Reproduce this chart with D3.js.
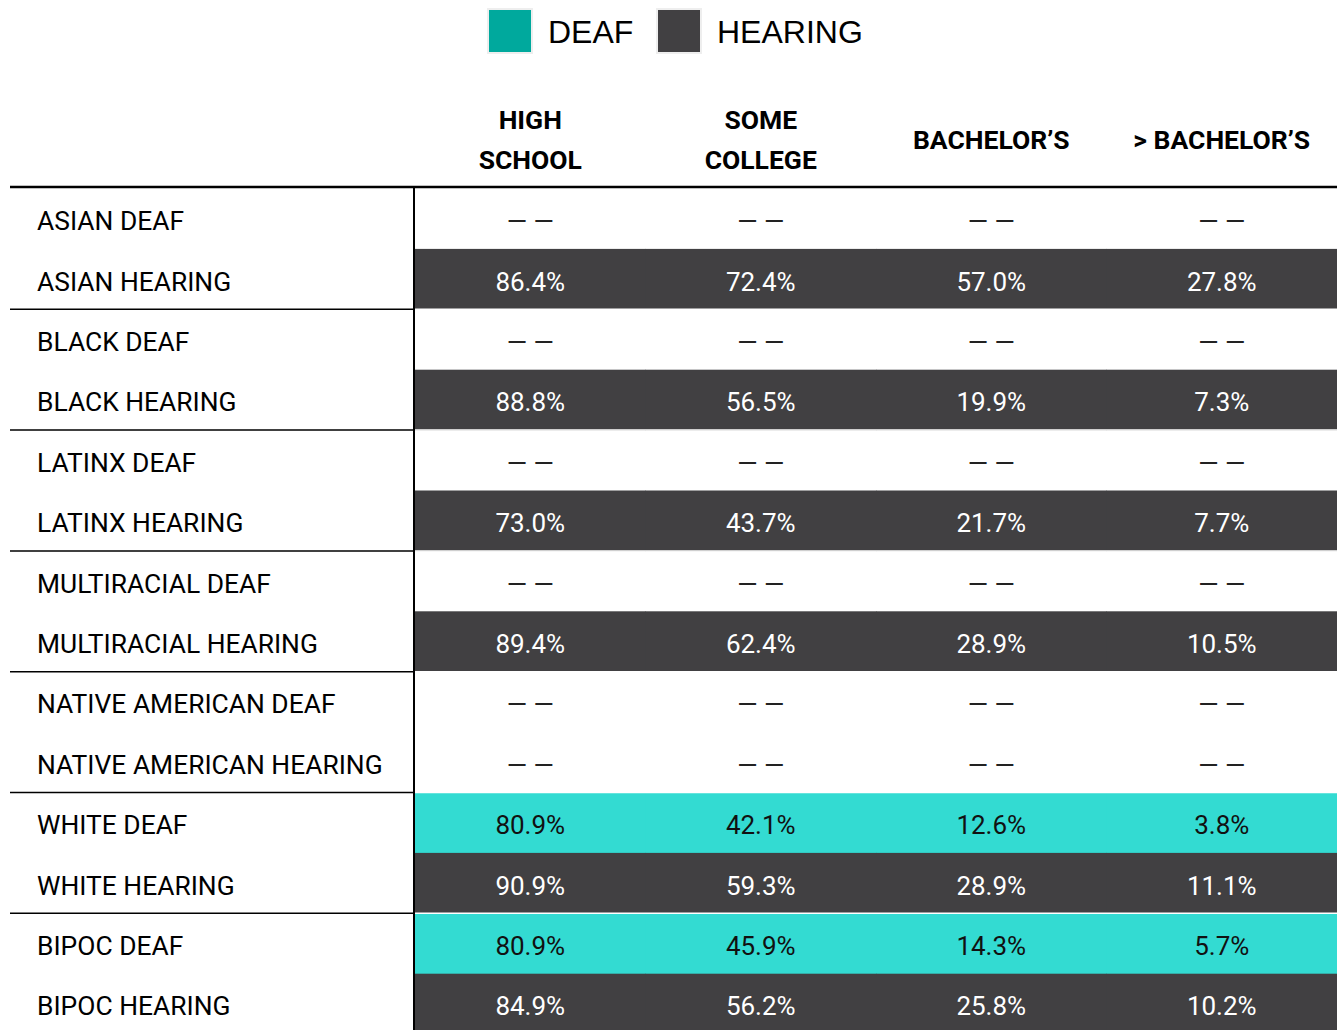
<!DOCTYPE html>
<html>
<head>
<meta charset="utf-8">
<script src="https://cdn.jsdelivr.net/npm/d3@7"></script>
<style>
  html, body { margin: 0; padding: 0; background: #fff; }
  svg { display: block; }
</style>
</head>
<body>
<div id="chart"></div>
<script>
// columns (education level), header lines per column
const LEVELS = ["HIGH SCHOOL", "SOME COLLEGE", "BACHELOR'S", "> BACHELOR'S"];
const LEVEL_LINES = [["HIGH", "SCHOOL"], ["SOME", "COLLEGE"], ["BACHELOR\u2019S"], ["> BACHELOR\u2019S"]];

// row groups
const GROUPS = ["ASIAN", "BLACK", "LATINX", "MULTIRACIAL", "NATIVE AMERICAN", "WHITE", "BIPOC"];
const STATUS = ["DEAF", "HEARING"];

// values per group, null = not available
const DEAF_VALUES = [
    [null, null, null, null],
    [null, null, null, null],
    [null, null, null, null],
    [null, null, null, null],
    [null, null, null, null],
    [80.9, 42.1, 12.6, 3.8],
    [80.9, 45.9, 14.3, 5.7]
];
const HEARING_VALUES = [
    [86.4, 72.4, 57.0, 27.8],
    [88.8, 56.5, 19.9, 7.3],
    [73.0, 43.7, 21.7, 7.7],
    [89.4, 62.4, 28.9, 10.5],
    [null, null, null, null],
    [90.9, 59.3, 28.9, 11.1],
    [84.9, 56.2, 25.8, 10.2]
];

const W = 1337, H = 1030;
const COLOR_LEGEND = { DEAF: "#00a99d", HEARING: "#414042" };
const COLOR_CELL = { DEAF: "#33dbd2", HEARING: "#414042" };
const TEXT_CELL = { DEAF: "#111", HEARING: "#fff" };

// flatten rows
const rows = [];
GROUPS.forEach((g, gi) => {
    STATUS.forEach(s => {
        const vals = s === "DEAF" ? DEAF_VALUES[gi] : HEARING_VALUES[gi];
        rows.push({ id: g + " " + s, group: g, status: s, values: vals });
    });
});

const svg = d3.select("#chart").append("svg")
    .attr("width", W).attr("height", H)
    .style("font-family", "Roboto, 'Noto Sans', sans-serif");

const tableTop = 188.5, labelLeft = 10, divX = 415;

const x = d3.scaleBand().domain(LEVELS).range([divX, W]);
const y = d3.scaleBand().domain(rows.map(r => r.id)).range([tableTop, tableTop + 60.4 * rows.length]);

// Legend
const legend = svg.append("g").attr("class", "legend");
const legendItems = [{ key: "DEAF", x: 488, tx: 548 }, { key: "HEARING", x: 657, tx: 717 }];
legendItems.forEach(it => {
    legend.append("rect")
        .attr("x", it.x).attr("y", 9).attr("width", 44).attr("height", 44)
        .attr("fill", COLOR_LEGEND[it.key])
        .attr("stroke", "#eeeeee").attr("stroke-width", 2);
    legend.append("text")
        .attr("x", it.tx).attr("y", 43)
        .attr("font-family", "'Liberation Sans', Arial, sans-serif")
        .attr("font-size", "32px")
        .attr("fill", "#000")
        .text(it.key);
});

// Header
LEVELS.forEach((lv, i) => {
    const lines = LEVEL_LINES[i];
    const cx = x(lv) + x.bandwidth() / 2;
    const t = svg.append("text")
        .attr("text-anchor", "middle")
        .attr("font-weight", "bold")
        .attr("font-size", "26.5px")
        .attr("fill", "#000");
    if (lines.length === 2) {
        t.append("tspan").attr("x", cx).attr("y", 129).text(lines[0]);
        t.append("tspan").attr("x", cx).attr("y", 169).text(lines[1]);
    } else {
        t.append("tspan").attr("x", cx).attr("y", 149).text(lines[0]);
    }
});

// Cells
const rowG = svg.append("g").selectAll("g").data(rows).join("g")
    .attr("transform", d => `translate(0,${y(d.id)})`);

rowG.each(function (d) {
    const g = d3.select(this);
    d.values.forEach((v, i) => {
        const lv = LEVELS[i];
        if (v !== null) {
            g.append("rect")
                .attr("x", x(lv)).attr("y", 0)
                .attr("width", x.bandwidth() + 0.5).attr("height", y.bandwidth() + 0.3)
                .attr("fill", COLOR_CELL[d.status]);
        }
        g.append("text")
            .attr("x", x(lv) + x.bandwidth() / 2)
            .attr("y", y.bandwidth() / 2 + 11.5)
            .attr("text-anchor", "middle")
            .attr("font-size", "26px")
            .attr("fill", v === null ? "#222" : TEXT_CELL[d.status])
            .text(v === null ? "\u2014 \u2014" : v.toFixed(1) + "%");
    });
    g.append("text")
        .attr("x", 37)
        .attr("y", y.bandwidth() / 2 + 11.5)
        .attr("font-size", "26.4px")
        .attr("fill", "#000")
        .text(d.id);
});

// Group separators
GROUPS.forEach((g, gi) => {
    if (gi === 0) return;
    const yy = y(g + " DEAF");
    svg.append("line")
        .attr("x1", labelLeft).attr("x2", divX)
        .attr("y1", yy).attr("y2", yy)
        .attr("stroke", "#000").attr("stroke-width", 1.5);
    svg.append("line")
        .attr("x1", divX).attr("x2", W)
        .attr("y1", yy).attr("y2", yy)
        .attr("stroke", "#fff").attr("stroke-width", 1.5);
});

// Header rule
svg.append("line")
    .attr("x1", labelLeft).attr("x2", W)
    .attr("y1", 187).attr("y2", 187)
    .attr("stroke", "#000").attr("stroke-width", 2.5);

// Divider between labels and values
svg.append("line")
    .attr("x1", divX - 1).attr("x2", divX - 1)
    .attr("y1", 187).attr("y2", H)
    .attr("stroke", "#000").attr("stroke-width", 2);
</script>
</body>
</html>
